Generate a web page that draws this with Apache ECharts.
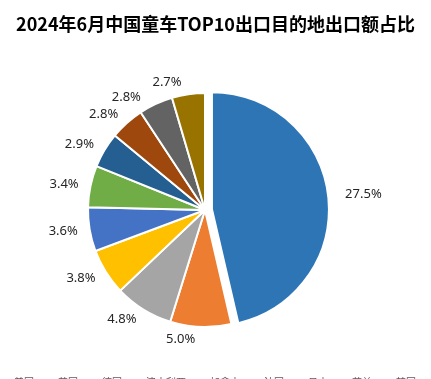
<!DOCTYPE html>
<html><head><meta charset="utf-8">
<script src="https://cdn.jsdelivr.net/npm/echarts@6/dist/echarts.min.js"></script>
<style>html,body{margin:0;padding:0;background:#fff}#c{width:431px;height:379px}</style>
</head><body><div id="c"></div>
<script>
var titleText = '2024年6月中国童车TOP10出口目的地出口额占比';
var categories = ['美国','英国','德国','澳大利亚','加拿大','法国','日本','荷兰','韩国','波兰'];
var values = [27.5, 5.0, 4.8, 3.8, 3.6, 3.4, 2.9, 2.8, 2.8, 2.7];
var colors = ['#2E75B6','#ED7D31','#A5A5A5','#FFC000','#4472C4','#70AD47','#255E91','#9E480E','#636363','#997300'];

var chart = echarts.init(document.getElementById('c'));
chart.setOption({
  animation: false,
  title: {text: titleText, left: 'center', top: 10,
    textStyle: {fontFamily: 'Noto Sans CJK SC', fontSize: 18, fontWeight: 'bold', color: '#000'}},
  legend: {top: 377, left: 0, right: 0, itemWidth: 8, itemHeight: 8, itemGap: 10, padding: 0,
    textStyle: {fontFamily: 'Noto Sans CJK SC', fontSize: 10, color: '#595959'}},
  series: [{
    type: 'pie',
    center: [205, 210],
    radius: [0, 117],
    startAngle: 90,
    clockwise: true,
    selectedMode: 'single',
    selectedOffset: 7,
    itemStyle: {borderColor: '#fff', borderWidth: 2},
    label: {show: true, position: 'outside', formatter: function(p){return p.value.toFixed(1)+'%';},
      fontFamily: 'Noto Sans', fontSize: 13, color: '#262626'},
    labelLine: {show: false, length: 12, length2: 0},
    data: categories.map(function(c,i){
      return {name: c, value: values[i], selected: i===0, itemStyle: {color: colors[i]}};
    })
  }]
});
</script></body></html>
